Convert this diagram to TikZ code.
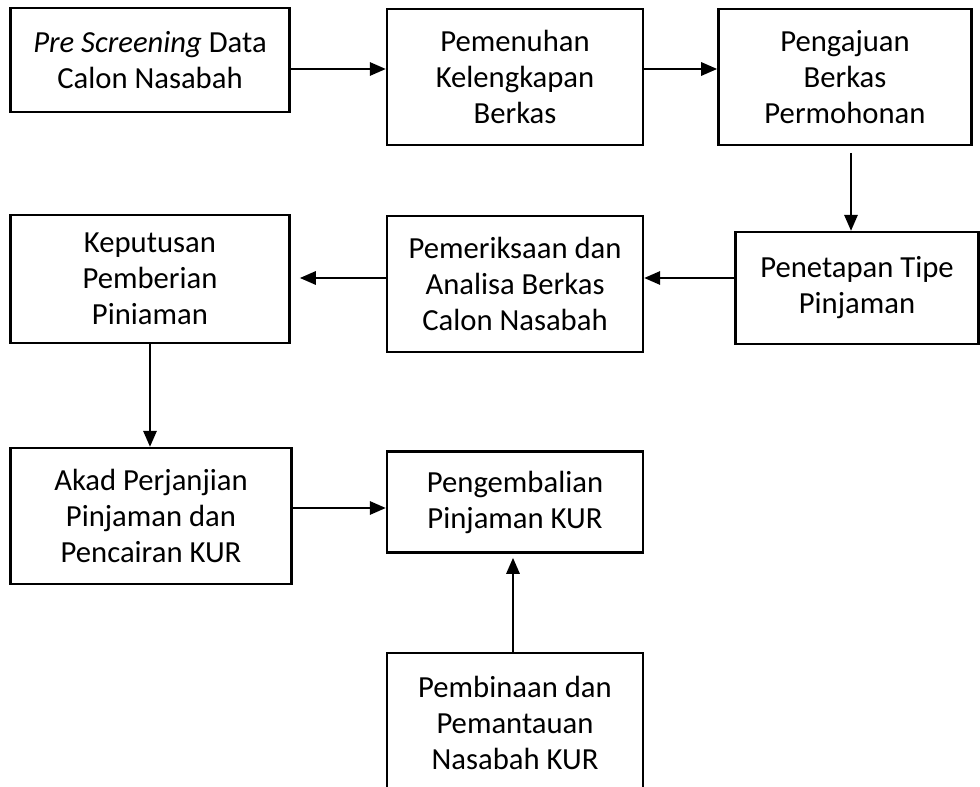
\documentclass[tikz,border=0pt]{standalone}
\usepackage{fontspec}
\setmainfont{Carlito}
\usetikzlibrary{arrows.meta}

\tikzset{
    box/.style={draw, line width=1.8pt, align=center, inner sep=0pt,
        font=\fontsize{23}{27}\selectfont},
    arr/.style={line width=1.6pt, -{Triangle[length=12pt, width=10pt]}}
}

\begin{document}
\begin{tikzpicture}[x=0.75pt, y=-0.75pt]
    \useasboundingbox (0, 0) rectangle (980, 787);

    % First row
    \node[box, minimum width=209pt, minimum height=78pt] (prescreen) at (150, 60) {\textit{Pre Screening} Data\\Calon Nasabah};
    \node[box, minimum width=192pt, minimum height=102pt] (pemenuhan) at (515, 77) {Pemenuhan\\Kelengkapan\\Berkas};
    \node[box, minimum width=190pt, minimum height=102pt] (pengajuan) at (845, 77) {Pengajuan\\Berkas\\Permohonan};

    % Second row
    \node[box, minimum width=182pt, minimum height=84pt] (penetapan) at (857, 288) {Penetapan Tipe\\Pinjaman};
    \node[box, minimum width=192pt, minimum height=102pt] (pemeriksaan) at (515, 284) {Pemeriksaan dan\\Analisa Berkas\\Calon Nasabah};
    \node[box, minimum width=209pt, minimum height=96pt] (keputusan) at (150, 279) {Keputusan\\Pemberian\\Piniaman};

    % Third row
    \node[box, minimum width=211pt, minimum height=102pt] (akad) at (151, 516) {Akad Perjanjian\\Pinjaman dan\\Pencairan KUR};
    \node[box, minimum width=192pt, minimum height=76pt] (pengembalian) at (515, 502) {Pengembalian\\Pinjaman KUR};
    \node[box, minimum width=192pt, minimum height=105pt] (pembinaan) at (515, 723) {Pembinaan dan\\Pemantauan\\Nasabah KUR};

    % Connectors
    \draw[arr] (prescreen.east |- {(0, 69)}) -- (pemenuhan.west |- {(0, 69)});
    \draw[arr] (pemenuhan.east |- {(0, 69)}) -- (pengajuan.west |- {(0, 69)});
    \draw[arr, shorten <=5pt] (pengajuan.south -| {(851, 0)}) -- (penetapan.north -| {(851, 0)});
    \draw[arr] (penetapan.west |- {(0, 278)}) -- (pemeriksaan.east |- {(0, 278)});
    \draw[arr, shorten >=7pt] (pemeriksaan.west |- {(0, 278)}) -- (keputusan.east |- {(0, 278)});
    \draw[arr] (keputusan.south) -- (akad.north -| keputusan.south);
    \draw[arr] (akad.east |- {(0, 508)}) -- (pengembalian.west |- {(0, 508)});
    \draw[arr, shorten >=3pt] (pembinaan.north -| {(513, 0)}) -- (pengembalian.south -| {(513, 0)});
\end{tikzpicture}
\end{document}
